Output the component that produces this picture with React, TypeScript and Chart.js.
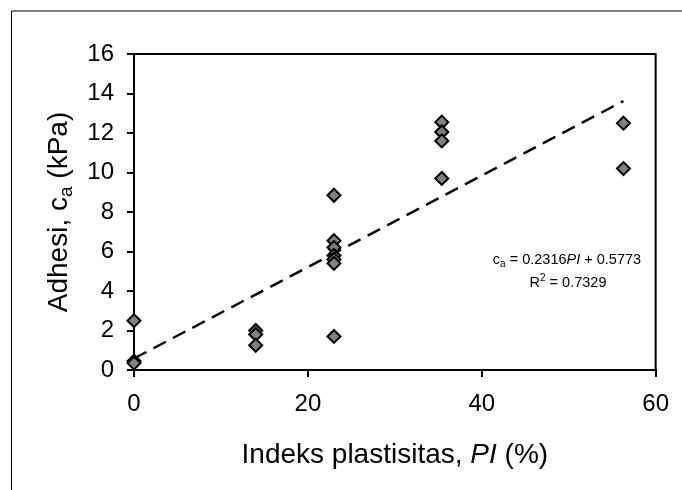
import React, { useEffect, useRef } from "react";
import { Chart, registerables } from "chart.js";

Chart.register(...registerables);

// ---- data ----
const PI_VALUES = [0, 0, 0, 14, 14, 14, 23, 23, 23, 23, 23, 23, 23, 35.4, 35.4, 35.4, 35.4, 56.3, 56.3];
const CA_VALUES = [2.5, 0.45, 0.35, 2.0, 1.8, 1.25, 8.85, 6.55, 6.2, 5.8, 5.6, 5.4, 1.7, 12.55, 12.05, 11.6, 9.7, 12.5, 10.2];
const TREND_X = [0, 56.3];
const TREND_Y = [0.58, 13.62];
const X_TICKS = [0, 20, 40, 60];
const Y_TICKS = [0, 2, 4, 6, 8, 10, 12, 14, 16];
const X_TITLE_RUNS = [
  { t: "Indeks plastisitas, ", italic: false },
  { t: "PI", italic: true },
  { t: " (%)", italic: false },
];
const Y_TITLE_RUNS = [
  { t: "Adhesi, c", sub: false },
  { t: "a", sub: true },
  { t: " (kPa)", sub: false },
];
const EQ_LINE1 = ["c", "a", " = 0.2316", "PI", " + 0.5773"];
const EQ_LINE2 = ["R", "2", " = 0.7329"];

const FONT = '"Liberation Sans", Arial, sans-serif';

type Run = { t: string; size: number; italic?: boolean; dy?: number };

function font(r: Run) {
  return `${r.italic ? "italic " : ""}${r.size}px ${FONT}`;
}

function drawRuns(ctx: CanvasRenderingContext2D, runs: Run[], cx: number, baseline: number) {
  let total = 0;
  const widths = runs.map((r) => {
    ctx.font = font(r);
    const w = ctx.measureText(r.t).width;
    total += w;
    return w;
  });
  let x = cx - total / 2;
  ctx.textAlign = "left";
  ctx.textBaseline = "alphabetic";
  runs.forEach((r, i) => {
    ctx.font = font(r);
    ctx.fillText(r.t, x, baseline + (r.dy || 0));
    x += widths[i];
  });
}

const decorPlugin = {
  id: "decor",
  beforeDraw(chart: any) {
    const ctx = chart.ctx as CanvasRenderingContext2D;
    ctx.save();
    ctx.fillStyle = "#ffffff";
    ctx.fillRect(0, 0, chart.width, chart.height);
    ctx.strokeStyle = "#000";
    ctx.lineWidth = 1;
    ctx.beginPath();
    ctx.moveTo(11.5, chart.height);
    ctx.lineTo(11.5, 11);
    ctx.lineTo(chart.width, 11);
    ctx.stroke();
    ctx.restore();
  },
  afterDraw(chart: any) {
    const ctx = chart.ctx as CanvasRenderingContext2D;
    const a = chart.chartArea;
    ctx.save();
    ctx.strokeStyle = "#000";
    ctx.lineWidth = 2;
    ctx.beginPath();
    ctx.moveTo(a.left, a.top);
    ctx.lineTo(a.right, a.top);
    ctx.lineTo(a.right, a.bottom);
    ctx.stroke();

    ctx.fillStyle = "#000";
    const xRuns: Run[] = X_TITLE_RUNS.map((r) => ({ t: r.t, size: 28, italic: r.italic }));
    drawRuns(ctx, xRuns, (a.left + a.right) / 2, 463);

    ctx.save();
    ctx.translate(67, (a.top + a.bottom) / 2);
    ctx.rotate(-Math.PI / 2);
    const yRuns: Run[] = Y_TITLE_RUNS.map((r) => ({ t: r.t, size: r.sub ? 19 : 28, dy: r.sub ? 5 : 0 }));
    drawRuns(ctx, yRuns, 0, 0);
    ctx.restore();

    const eq1: Run[] = [
      { t: EQ_LINE1[0], size: 14.5 },
      { t: EQ_LINE1[1], size: 10, dy: 3 },
      { t: EQ_LINE1[2], size: 14.5 },
      { t: EQ_LINE1[3], size: 14.5, italic: true },
      { t: EQ_LINE1[4], size: 14.5 },
    ];
    drawRuns(ctx, eq1, 567, 263.5);
    const eq2: Run[] = [
      { t: EQ_LINE2[0], size: 14.5 },
      { t: EQ_LINE2[1], size: 10, dy: -6 },
      { t: EQ_LINE2[2], size: 14.5 },
    ];
    drawRuns(ctx, eq2, 568, 286.5);
    ctx.restore();
  },
};

export default function App() {
  const ref = useRef<HTMLCanvasElement | null>(null);
  useEffect(() => {
    if (!ref.current) return;
    const points = PI_VALUES.map((x, i) => ({ x, y: CA_VALUES[i] }));
    const trend = TREND_X.map((x, i) => ({ x, y: TREND_Y[i] }));
    const chart = new Chart(ref.current, {
      type: "scatter",
      data: {
        datasets: [
          {
            type: "line",
            label: "trend",
            data: trend,
            borderColor: "#000",
            borderWidth: 2.4,
            borderDash: [14, 8],
            pointRadius: 0,
            fill: false,
            showLine: true,
            clip: false,
          } as any,
          {
            label: "data",
            data: points,
            pointStyle: "rectRot",
            pointRadius: 6.5,
            pointBackgroundColor: "#808080",
            pointBorderColor: "#000",
            pointBorderWidth: 2,
            showLine: false,
            clip: false,
          } as any,
        ],
      },
      options: {
        responsive: false,
        animation: false,
        devicePixelRatio: 1,
        layout: { padding: { left: 0, top: 54, right: 26, bottom: 0 } },
        plugins: { legend: { display: false }, tooltip: { enabled: false }, title: { display: false } },
        scales: {
          x: {
            type: "linear",
            min: 0,
            max: 60,
            afterBuildTicks: (s: any) => {
              s.ticks = X_TICKS.map((v) => ({ value: v }));
            },
            afterFit: (s: any) => {
              s.height = 120;
            },
            grid: { display: true, drawOnChartArea: false, drawTicks: true, tickLength: 7, color: "#000", lineWidth: 2 },
            border: { display: true, color: "#000", width: 2 },
            ticks: { color: "#000", padding: 13, font: { family: FONT, size: 24 }, maxRotation: 0 },
          },
          y: {
            type: "linear",
            min: 0,
            max: 16,
            afterBuildTicks: (s: any) => {
              s.ticks = Y_TICKS.map((v) => ({ value: v }));
            },
            afterFit: (s: any) => {
              s.width = 134;
            },
            grid: { display: true, drawOnChartArea: false, drawTicks: true, tickLength: 7, color: "#000", lineWidth: 2 },
            border: { display: true, color: "#000", width: 2 },
            ticks: { color: "#000", padding: 13, font: { family: FONT, size: 24 } },
          },
        },
      } as any,
      plugins: [decorPlugin],
    });
    return () => chart.destroy();
  }, []);
  return (
    <div style={{ position: "fixed", left: 0, top: 0, width: 682, height: 490 }}>
      <canvas ref={ref} width={682} height={490} style={{ display: "block" }} />
    </div>
  );
}
